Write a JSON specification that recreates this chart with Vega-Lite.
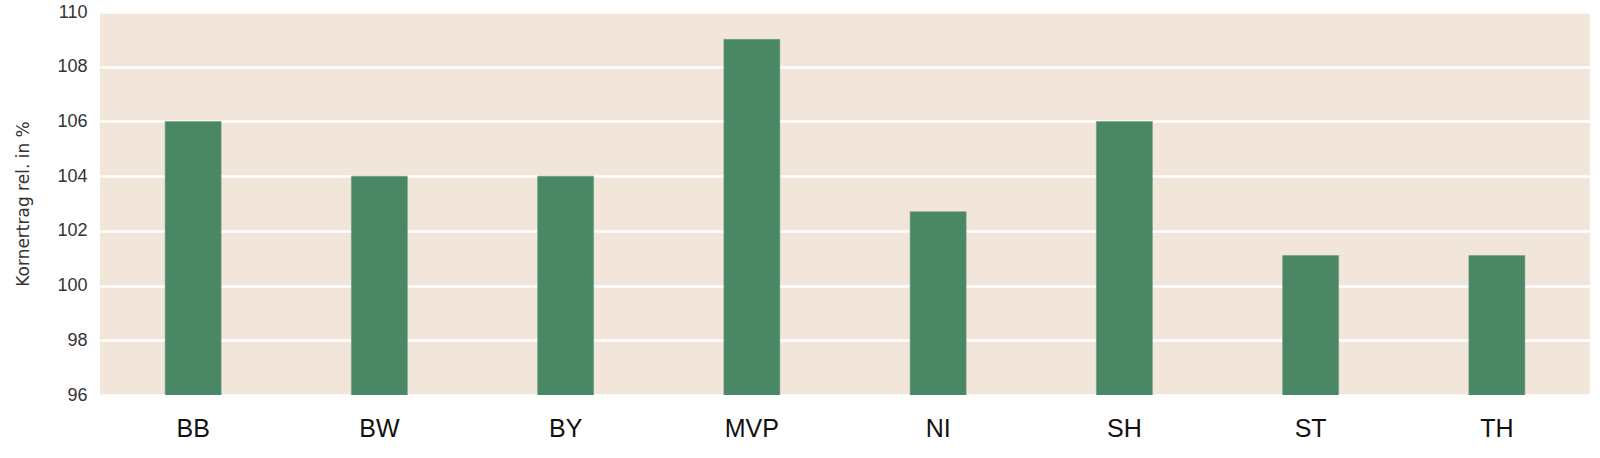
{
  "$schema": "https://vega.github.io/schema/vega-lite/v6.json",
  "width": 1490,
  "height": 383,
  "autosize": {"type": "none"},
  "padding": {"left": 100, "top": 12, "right": 10, "bottom": 63},
  "background": "white",
  "config": {
    "view": {"fill": "#f2e6da", "stroke": null},
    "font": "Liberation Sans"
  },
  "data": {
    "values": [
      {"land": "BB", "ertrag": 106},
      {"land": "BW", "ertrag": 104},
      {"land": "BY", "ertrag": 104},
      {"land": "MVP", "ertrag": 109},
      {"land": "NI", "ertrag": 102.7},
      {"land": "SH", "ertrag": 106},
      {"land": "ST", "ertrag": 101.1},
      {"land": "TH", "ertrag": 101.1}
    ]
  },
  "mark": {"type": "bar", "width": 56, "color": "#4a8765", "stroke": "#6f9f82", "strokeWidth": 0.6, "clip": true},
  "encoding": {
    "x": {
      "field": "land",
      "type": "nominal",
      "sort": null,
      "title": null,
      "scale": {"paddingInner": 0, "paddingOuter": 0},
      "axis": {
        "labelAngle": 0,
        "domain": false,
        "ticks": false,
        "grid": false,
        "labelFont": "Liberation Sans",
        "labelFontSize": 25,
        "labelColor": "#111",
        "labelPadding": 21
      }
    },
    "y": {
      "field": "ertrag",
      "type": "quantitative",
      "title": "Kornertrag rel. in %",
      "scale": {"domain": [96, 110], "nice": false, "zero": false},
      "axis": {
        "values": [96, 98, 100, 102, 104, 106, 108, 110],
        "domain": false,
        "ticks": false,
        "grid": true,
        "gridColor": "white",
        "gridWidth": 2.5,
        "gridOpacity": 1,
        "labelFontSize": 18,
        "labelColor": "#333",
        "labelPadding": 13,
        "titleFont": "DejaVu Sans",
        "titleFontSize": 17,
        "titleFontWeight": "normal",
        "titleColor": "#333",
        "titlePadding": 24
      }
    }
  }
}
